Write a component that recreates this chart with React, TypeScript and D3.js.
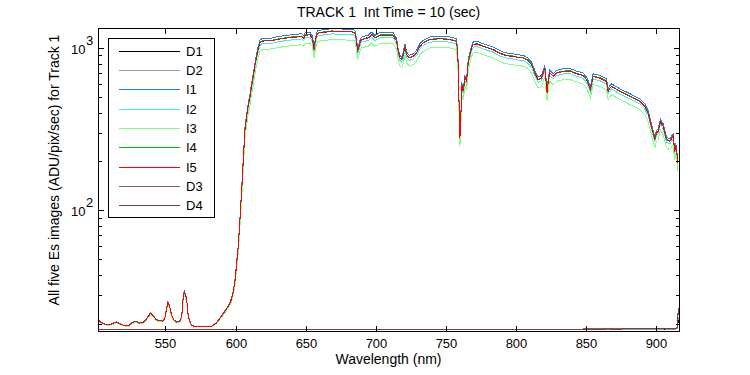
import React from "react";
import * as d3 from "d3";

// wavelength grid (nm) shared by the five image spectra
const wavelengths = [
  502.0, 503.0, 506.0, 509.0, 512.0, 515.0, 517.5, 521.0, 523.5, 526.0, 528.5, 531.5, 534.0, 536.0, 537.6,
  539.5, 541.2, 543.0, 544.7, 548.3, 549.5, 550.2, 551.2, 551.8, 553.0, 554.0, 554.7, 556.0, 557.7, 560.2,
  561.3, 561.8, 562.5, 563.2, 563.7, 564.3, 564.9, 565.5, 566.0, 567.0, 568.4, 570.0, 573.2, 582.7, 586.2,
  589.8, 591.5, 593.4, 595.2, 596.9, 598.2, 599.4, 600.8, 601.9, 603.1, 604.3, 605.5, 606.7, 607.9, 609.0,
  610.3, 611.5, 612.6, 613.8, 615.0, 616.2, 617.4, 618.6, 620.0, 625.7, 629.0, 632.8, 636.0, 640.0, 644.0,
  647.1, 648.5, 649.5, 651.0, 653.0, 654.5, 655.4, 656.0, 656.8, 658.0, 658.9, 663.0, 668.5, 675.0, 682.7,
  685.0, 686.3, 686.9, 687.8, 689.0, 689.9, 692.0, 694.6, 697.0, 699.3, 702.9, 707.0, 712.4, 714.8, 715.9,
  717.1, 718.4, 719.5, 720.7, 721.9, 723.8, 726.6, 729.0, 731.4, 733.8, 738.5, 745.7, 752.8, 757.6, 758.7,
  759.3, 759.9, 760.5, 761.1, 762.3, 763.5, 764.7, 765.9, 768.3, 769.4, 772.0, 776.5, 780.0, 783.6, 787.0,
  790.8, 794.0, 797.9, 801.0, 805.0, 808.0, 811.0, 813.3, 815.7, 818.1, 820.4, 821.2, 822.1, 823.0, 824.0,
  826.4, 828.8, 833.5, 838.3, 843.0, 847.7, 850.1, 851.5, 853.0, 854.0, 854.9, 859.7, 864.4, 865.6, 866.5,
  868.0, 873.9, 881.0, 888.2, 891.7, 894.1, 896.5, 898.8, 900.0, 901.2, 902.9, 904.8, 907.2, 909.5, 911.9,
  913.0, 913.8, 915.4,
];

const i1 = [
  21.3, 20.7, 20.0, 19.6, 20.0, 20.5, 20.0, 19.4, 19.3, 20.2, 20.7, 20.2, 20.4, 21.1, 22.2,
  23.3, 22.4, 21.4, 20.9, 20.8, 21.6, 23.3, 25.8, 27.3, 25.6, 23.5, 22.2, 21.1, 20.5, 20.7,
  21.9, 23.4, 28.3, 31.0, 31.7, 29.9, 29.2, 26.3, 23.3, 21.1, 19.6, 19.3, 19.2, 19.2, 20.2,
  22.2, 23.5, 24.6, 26.3, 28.3, 31.5, 36.1, 48.2, 61.2, 89.8, 134, 212, 325, 393, 457,
  523, 613, 694, 810, 922, 1029, 1116, 1141, 1148, 1152, 1169, 1185, 1195, 1208, 1216,
  1225, 1195, 1242, 1247, 1255, 1195, 1089, 1014, 1143, 1257, 1285, 1299, 1315, 1311, 1305,
  1288, 1143, 987, 1039, 1143, 1169, 1184, 1198, 1254, 1198, 1243, 1247, 1243, 1141, 990,
  902, 880, 935, 1063, 944, 902, 922, 967, 1063, 1116, 1169, 1185, 1169, 1141, 820,
  468, 291, 343, 617, 561, 677, 646, 859, 1039, 1089, 1101, 1063, 1039, 1014, 977,
  944, 930, 922, 909, 902, 873, 820, 728, 662, 677, 782, 665, 548, 665, 728,
  694, 728, 745, 748, 721, 701, 662, 623, 575, 634, 694, 677, 646, 561, 582,
  602, 561, 523, 486, 453, 412, 341, 283, 310, 318, 366, 341, 283, 275, 296,
  239, 260, 203,
];

const i2 = [
  21.1, 20.5, 19.9, 19.6, 19.9, 20.3, 19.9, 19.4, 19.3, 20.1, 20.5, 20.1, 20.2, 20.9, 22.0,
  23.0, 22.2, 21.2, 20.7, 20.6, 21.4, 23.0, 25.3, 26.7, 25.1, 23.1, 22.0, 20.9, 20.3, 20.5,
  21.7, 23.0, 27.6, 30.1, 30.8, 29.1, 28.4, 25.7, 23.0, 20.9, 19.6, 19.3, 19.2, 19.2, 20.1,
  22.0, 23.1, 24.2, 25.7, 27.6, 30.6, 34.8, 46.1, 58.2, 84.7, 126, 197, 302, 365, 425,
  485, 569, 645, 753, 856, 955, 1036, 1060, 1066, 1070, 1086, 1101, 1110, 1122, 1129,
  1138, 1110, 1153, 1158, 1166, 1110, 1011, 942, 1062, 1168, 1194, 1206, 1222, 1218, 1212,
  1197, 1062, 917, 965, 1062, 1086, 1100, 1113, 1165, 1113, 1154, 1158, 1154, 1060, 920,
  838, 817, 869, 987, 877, 838, 856, 898, 987, 1036, 1086, 1101, 1086, 1060, 761,
  434, 270, 318, 573, 521, 629, 600, 798, 965, 1011, 1023, 987, 965, 942, 907,
  877, 864, 856, 844, 838, 811, 761, 676, 615, 629, 727, 618, 509, 618, 676,
  645, 676, 692, 695, 670, 651, 615, 579, 534, 589, 645, 629, 600, 521, 540,
  559, 521, 485, 452, 421, 383, 317, 262, 288, 295, 340, 317, 262, 256, 275,
  222, 241, 188,
];

const i3 = [
  20.9, 20.4, 19.7, 19.5, 19.7, 20.2, 19.7, 19.3, 19.2, 19.9, 20.4, 19.9, 20.1, 20.7, 21.7,
  22.6, 21.9, 21.0, 20.5, 20.5, 21.2, 22.6, 24.7, 26.1, 24.6, 22.8, 21.7, 20.7, 20.2, 20.4,
  21.4, 22.7, 26.9, 29.2, 29.8, 28.3, 27.7, 25.2, 22.6, 20.7, 19.5, 19.2, 19.1, 19.1, 19.9,
  21.7, 22.8, 23.8, 25.2, 26.9, 29.6, 33.5, 44.0, 55.1, 79.6, 118, 182, 279, 336, 392,
  448, 525, 595, 694, 789, 881, 956, 977, 983, 987, 1001, 1015, 1024, 1035, 1041,
  1049, 1024, 1064, 1068, 1075, 1024, 933, 869, 979, 1077, 1101, 1113, 1127, 1123, 1118,
  1104, 979, 846, 890, 979, 1001, 1015, 1026, 1074, 1026, 1064, 1068, 1064, 977, 848,
  773, 754, 801, 910, 809, 773, 789, 829, 910, 956, 1001, 1015, 1001, 977, 702,
  401, 249, 294, 529, 481, 580, 554, 736, 890, 933, 943, 910, 890, 869, 837,
  809, 797, 789, 779, 773, 748, 702, 624, 567, 580, 670, 570, 469, 570, 624,
  595, 624, 638, 641, 618, 601, 567, 534, 492, 543, 595, 580, 554, 481, 498,
  515, 481, 448, 417, 388, 353, 292, 242, 265, 272, 313, 292, 242, 236, 254,
  205, 223, 174,
];

const i4 = [
  21.2, 20.6, 19.9, 19.6, 19.9, 20.4, 19.9, 19.4, 19.3, 20.1, 20.6, 20.1, 20.3, 21.0, 22.1,
  23.1, 22.3, 21.3, 20.8, 20.7, 21.5, 23.1, 25.5, 27.0, 25.3, 23.3, 22.1, 21.0, 20.4, 20.6,
  21.8, 23.2, 27.9, 30.5, 31.2, 29.5, 28.8, 26.0, 23.1, 21.0, 19.6, 19.3, 19.2, 19.2, 20.1,
  22.1, 23.3, 24.4, 26.0, 27.9, 31.0, 35.5, 47.3, 59.8, 87.5, 131, 205, 315, 380, 443,
  506, 594, 672, 785, 892, 996, 1080, 1105, 1112, 1116, 1132, 1148, 1157, 1170, 1177,
  1186, 1157, 1202, 1207, 1215, 1157, 1054, 982, 1107, 1217, 1244, 1258, 1274, 1270, 1264,
  1247, 1107, 956, 1006, 1107, 1132, 1147, 1160, 1214, 1160, 1203, 1207, 1203, 1105, 959,
  873, 852, 905, 1029, 914, 873, 892, 937, 1029, 1080, 1132, 1148, 1132, 1105, 794,
  453, 282, 332, 598, 543, 656, 626, 832, 1006, 1054, 1066, 1029, 1006, 982, 946,
  914, 900, 892, 880, 873, 845, 794, 705, 641, 656, 758, 644, 530, 644, 705,
  672, 705, 721, 724, 698, 679, 641, 604, 556, 614, 672, 656, 626, 543, 563,
  582, 543, 506, 471, 439, 399, 330, 274, 300, 308, 354, 330, 274, 267, 287,
  231, 252, 196,
];

const i5 = [
  21.2, 20.6, 19.9, 19.6, 19.9, 20.4, 19.9, 19.4, 19.3, 20.1, 20.6, 20.1, 20.3, 21.0, 22.1,
  23.1, 22.3, 21.3, 20.8, 20.7, 21.5, 23.1, 25.5, 27.0, 25.3, 23.3, 22.1, 21.0, 20.4, 20.6,
  21.8, 23.2, 27.9, 30.5, 31.2, 29.5, 28.8, 26.0, 23.1, 21.0, 19.6, 19.3, 19.2, 19.2, 20.1,
  22.1, 23.3, 24.4, 26.0, 27.9, 31.0, 35.4, 47.1, 59.6, 87.1, 130, 204, 313, 378, 440,
  503, 590, 668, 780, 887, 990, 1074, 1098, 1105, 1109, 1125, 1141, 1150, 1163, 1170,
  1179, 1150, 1195, 1200, 1208, 1150, 1048, 976, 1100, 1210, 1237, 1250, 1266, 1262, 1256,
  1240, 1100, 950, 1000, 1100, 1125, 1140, 1153, 1207, 1153, 1196, 1200, 1196, 1098, 953,
  868, 847, 900, 1023, 909, 868, 887, 931, 1023, 1074, 1125, 1141, 1125, 1098, 789,
  450, 280, 330, 594, 540, 652, 622, 827, 1000, 1048, 1060, 1023, 1000, 976, 940,
  909, 895, 887, 875, 868, 840, 789, 701, 637, 652, 753, 640, 527, 640, 701,
  668, 701, 717, 720, 694, 675, 637, 600, 553, 610, 668, 652, 622, 540, 560,
  579, 540, 503, 468, 436, 397, 328, 272, 298, 306, 352, 328, 272, 265, 285,
  230, 250, 195,
];

// dark frames, coarser grid
const darkWavelengths = [
  502, 540, 580, 620, 660, 700, 740, 780, 820, 850, 866, 872, 880, 888, 894, 900, 906, 911, 914, 915.0,
  915.5, 916.1,
];
const d1 = [
  18.3, 18.3, 18.35, 18.3, 18.3, 18.3, 18.35, 18.3, 18.3, 18.35, 18.4, 18.3, 18.45, 18.35, 18.4, 18.5,
  18.4, 18.45, 18.5, 18.6, 20.5, 21.0,
];
const d2 = [
  18.3, 18.32, 18.3, 18.32, 18.3, 18.32, 18.3, 18.32, 18.35, 18.3, 18.38, 18.35, 18.4, 18.4, 18.45, 18.4,
  18.5, 18.45, 18.5, 18.7, 21.5, 22.0,
];
const d3s = [
  18.45, 18.45, 18.45, 18.45, 18.45, 18.45, 18.45, 18.45, 18.45, 18.5, 18.5, 18.55, 18.5, 18.6, 18.5,
  18.6, 18.55, 18.6, 18.6, 19.0, 24.5, 25.0,
];
const d4 = [
  18.4, 18.4, 18.4, 18.42, 18.4, 18.42, 18.4, 18.42, 18.45, 18.45, 18.5, 18.45, 18.55, 18.5, 18.55,
  18.5, 18.6, 18.55, 18.6, 18.9, 23.5, 24.5,
];

const seriesNames = ["D1", "D2", "I1", "I2", "I3", "I4", "I5", "D3", "D4"];
const seriesColors = ["#000000", "#999999", "#1a7fe8", "#33f0f0", "#80ff80", "#00b400", "#ff0000", "#8c5a5a", "#803a3a"];

const xTicks = [550, 600, 650, 700, 750, 800, 850, 900];
const yMajor = [100, 1000];
const yMinor = [20, 30, 40, 50, 60, 70, 80, 90, 200, 300, 400, 500, 600, 700, 800, 900];

const W = 750;
const H = 375;
const left = 98;
const right = 679;
const top = 28;
const bottom = 331;
const font = "Arial, 'Liberation Sans', Helvetica, sans-serif";

const App = () => {
  const x = d3.scaleLinear().domain([501.9, 916.1]).range([left, right]);
  const y = d3.scaleLog().domain([17.98, 1329]).range([bottom, top]);

  const line = d3
    .line<[number, number]>()
    .x((d) => x(d[0]))
    .y((d) => y(d[1]));

  const pair = (xs: number[], ys: number[]) => xs.map((w, i) => [w, ys[i]] as [number, number]);

  const series = [
    pair(darkWavelengths, d1),
    pair(darkWavelengths, d2),
    pair(wavelengths, i1),
    pair(wavelengths, i2),
    pair(wavelengths, i3),
    pair(wavelengths, i4),
    pair(wavelengths, i5),
    pair(darkWavelengths, d3s),
    pair(darkWavelengths, d4),
  ];

  const legendX = 108.5;
  const legendY = 38.5;
  const rowH = 19.35;

  return (
    <svg
      width={W}
      height={H}
      style={{ position: "absolute", left: 0, top: 0, background: "#fff" }}
      fontFamily={font}
    >
      <rect x={0} y={0} width={W} height={H} fill="#fff" />
      <defs>
        <clipPath id="plot">
          <rect x={left} y={top} width={right - left + 1} height={bottom - top + 1} />
        </clipPath>
      </defs>

      {/* data */}
      <g clipPath="url(#plot)">
        {series.map((s, i) => (
          <path
            key={seriesNames[i]}
            d={line(s) || ""}
            fill="none"
            stroke={seriesColors[i]}
            strokeWidth={1}
            shapeRendering="crispEdges"
          />
        ))}
      </g>

      {/* frame */}
      <rect
        x={left + 0.5}
        y={top + 0.5}
        width={right - left}
        height={bottom - top}
        fill="none"
        stroke="#000"
        strokeWidth={1}
        shapeRendering="crispEdges"
      />

      {/* x ticks */}
      {xTicks.map((t) => {
        const px = Math.round(x(t)) + 0.5;
        return (
          <g key={"x" + t}>
            <line x1={px} x2={px} y1={bottom + 0.5} y2={bottom - 5} stroke="#000" shapeRendering="crispEdges" />
            <line x1={px} x2={px} y1={top + 0.5} y2={top + 6} stroke="#000" shapeRendering="crispEdges" />
            <text x={px} y={347.5} fontSize={13} textAnchor="middle">
              {t}
            </text>
          </g>
        );
      })}

      {/* y ticks */}
      {yMinor.map((t) => {
        const py = Math.round(y(t)) + 0.5;
        return (
          <g key={"ym" + t}>
            <line x1={left + 0.5} x2={left + 4} y1={py} y2={py} stroke="#000" shapeRendering="crispEdges" />
            <line x1={right + 0.5} x2={right - 3} y1={py} y2={py} stroke="#000" shapeRendering="crispEdges" />
          </g>
        );
      })}
      {yMajor.map((t) => {
        const py = Math.round(y(t)) + 0.5;
        return (
          <g key={"yM" + t}>
            <line x1={left + 0.5} x2={left + 6} y1={py} y2={py} stroke="#000" shapeRendering="crispEdges" />
            <line x1={right + 0.5} x2={right - 5} y1={py} y2={py} stroke="#000" shapeRendering="crispEdges" />
            <text x={85.5} y={py + 5} fontSize={13} textAnchor="end">
              10
            </text>
            <text x={86} y={py - 4} fontSize={13}>
              {Math.round(Math.log10(t))}
            </text>
          </g>
        );
      })}

      {/* title and labels */}
      <text x={(left + right) / 2} y={16.5} fontSize={14} textAnchor="middle" xmlSpace="preserve">
        TRACK 1  Int Time = 10 (sec)
      </text>
      <text x={(left + right) / 2} y={364} fontSize={14} textAnchor="middle">
        Wavelength (nm)
      </text>
      <text transform="translate(59,170) rotate(-90)" fontSize={14} textAnchor="middle">
        All five Es images (ADU/pix/sec) for Track 1
      </text>

      {/* legend */}
      <rect
        x={legendX}
        y={legendY}
        width={106}
        height={179}
        fill="#fff"
        stroke="#000"
        shapeRendering="crispEdges"
      />
      {seriesNames.map((n, i) => {
        const ly = Math.round(legendY + 12 + i * rowH) + 0.5;
        return (
          <g key={"lg" + n}>
            <line x1={119} x2={180} y1={ly} y2={ly} stroke={seriesColors[i]} shapeRendering="crispEdges" />
            <text x={186} y={ly + 4.5} fontSize={13}>
              {n}
            </text>
          </g>
        );
      })}
    </svg>
  );
};

export default App;
